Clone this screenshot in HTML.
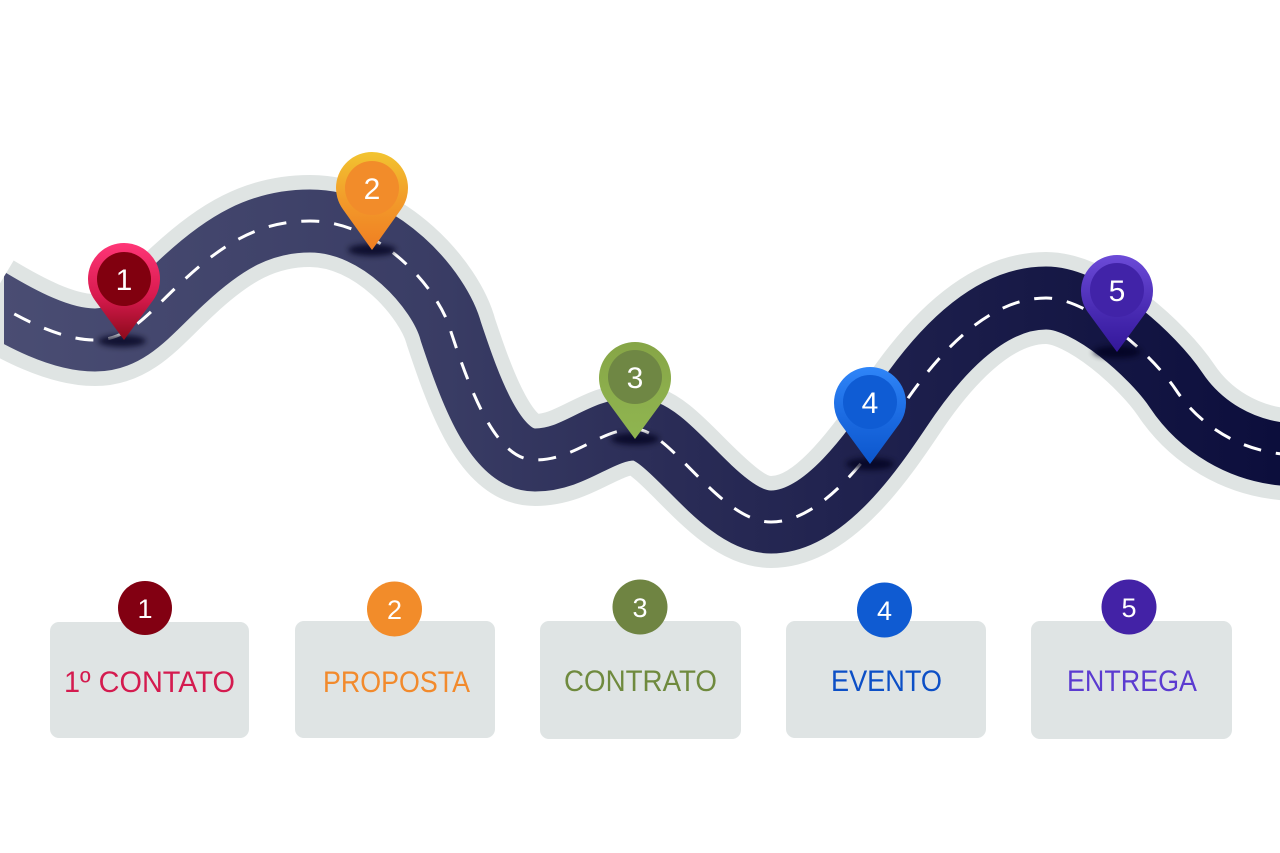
<!DOCTYPE html>
<html>
<head>
<meta charset="utf-8">
<style>
html,body{margin:0;padding:0;background:#ffffff;}
svg{display:block;}
</style>
</head>
<body>
<svg width="1280" height="853" viewBox="0 0 1280 853" xmlns="http://www.w3.org/2000/svg">
<defs>
<linearGradient id="road" gradientUnits="userSpaceOnUse" x1="0" y1="0" x2="1280" y2="0">
<stop offset="0" stop-color="#4a4d73"/>
<stop offset="0.35" stop-color="#393c64"/>
<stop offset="0.5" stop-color="#2c2e58"/>
<stop offset="0.72" stop-color="#1c1e4b"/>
<stop offset="1" stop-color="#0c0e3c"/>
</linearGradient>
<clipPath id="rc"><rect x="4" y="0" width="1276" height="853"/></clipPath>
<filter id="blur" x="-50%" y="-50%" width="200%" height="200%"><feGaussianBlur stdDeviation="3"/></filter>
<linearGradient id="p1" x1="0" y1="0" x2="0" y2="1"><stop offset="0" stop-color="#ff3677"/><stop offset="0.55" stop-color="#d81a4e"/><stop offset="1" stop-color="#8a0a1a"/></linearGradient>
<linearGradient id="p2" x1="0" y1="0" x2="0" y2="1"><stop offset="0" stop-color="#f2c430"/><stop offset="0.5" stop-color="#f29a2a"/><stop offset="1" stop-color="#f07e22"/></linearGradient>
<linearGradient id="p3" x1="0" y1="0" x2="0" y2="1"><stop offset="0" stop-color="#86a546"/><stop offset="0.5" stop-color="#8cae4c"/><stop offset="1" stop-color="#8fb550"/></linearGradient>
<linearGradient id="p4" x1="0" y1="0" x2="0" y2="1"><stop offset="0" stop-color="#2f85f8"/><stop offset="0.55" stop-color="#1a69e0"/><stop offset="1" stop-color="#0c56cc"/></linearGradient>
<linearGradient id="p5" x1="0" y1="0" x2="0" y2="1"><stop offset="0" stop-color="#6c4bd8"/><stop offset="0.55" stop-color="#4a2cb4"/><stop offset="1" stop-color="#33179a"/></linearGradient>
</defs>

<!-- road -->
<path id="rp" d="M -10,300 C 20,318 60,340 95,340 C 130,340 149,312 184,280 C 224,243 260,221 310,221 C 380,221 440,290 451,332 C 470,389 495,460 535,460 C 575,460 600,429 635,429 C 670,429 720,522 771,522 C 825,522 875,447 900,410 C 933,360 985,298 1046,298 C 1090,298 1154,357 1176,390 C 1198,423 1240,455 1300,455" fill="none" stroke="#dfe4e3" stroke-width="92"/>
<g clip-path="url(#rc)">
<path d="M -10,300 C 20,318 60,340 95,340 C 130,340 149,312 184,280 C 224,243 260,221 310,221 C 380,221 440,290 451,332 C 470,389 495,460 535,460 C 575,460 600,429 635,429 C 670,429 720,522 771,522 C 825,522 875,447 900,410 C 933,360 985,298 1046,298 C 1090,298 1154,357 1176,390 C 1198,423 1240,455 1300,455" fill="none" stroke="url(#road)" stroke-width="63"/>
<path d="M -10,300 C 20,318 60,340 95,340 C 130,340 149,312 184,280 C 224,243 260,221 310,221 C 380,221 440,290 451,332 C 470,389 495,460 535,460 C 575,460 600,429 635,429 C 670,429 720,522 771,522 C 825,522 875,447 900,410 C 933,360 985,298 1046,298 C 1090,298 1154,357 1176,390 C 1198,423 1240,455 1300,455" fill="none" stroke="#ffffff" stroke-width="3" stroke-dasharray="18 15" stroke-dashoffset="-28"/>
</g>

<!-- pin shadows -->
<g filter="url(#blur)" fill="#05061a" opacity="0.75">
<ellipse cx="122" cy="341" rx="24" ry="6"/>
<ellipse cx="372" cy="250" rx="24" ry="6"/>
<ellipse cx="635" cy="439" rx="24" ry="6"/>
<ellipse cx="870" cy="464" rx="24" ry="6"/>
<ellipse cx="1117" cy="352" rx="24" ry="6"/>
</g>

<!-- pins -->
<g font-family="Liberation Sans, DejaVu Sans, sans-serif" font-size="30" fill="#ffffff" text-anchor="middle">
<path d="M124,340 L94.9,300.2 A36,36 0 1 1 153.1,300.2 Z" fill="url(#p1)"/>
<circle cx="124" cy="279" r="27" fill="#81000f"/>
<text x="124" y="290">1</text>

<path d="M372,250 L342.9,209.2 A36,36 0 1 1 401.1,209.2 Z" fill="url(#p2)"/>
<circle cx="372" cy="188" r="27" fill="#f28c2a"/>
<text x="372" y="199">2</text>

<path d="M635,439 L605.9,399.2 A36,36 0 1 1 664.1,399.2 Z" fill="url(#p3)"/>
<circle cx="635" cy="377" r="27" fill="#6f8744"/>
<text x="635" y="388">3</text>

<path d="M870,464 L840.9,424.2 A36,36 0 1 1 899.1,424.2 Z" fill="url(#p4)"/>
<circle cx="870" cy="402" r="27" fill="#0f5cd4"/>
<text x="870" y="413">4</text>

<path d="M1117,352 L1087.9,312.2 A36,36 0 1 1 1146.1,312.2 Z" fill="url(#p5)"/>
<circle cx="1117" cy="290" r="27" fill="#4123a8"/>
<text x="1117" y="301">5</text>
</g>

<!-- boxes -->
<g fill="#dfe4e4">
<rect x="50" y="622" width="199" height="116" rx="9"/>
<rect x="295" y="621" width="200" height="117" rx="9"/>
<rect x="540" y="621" width="201" height="118" rx="9"/>
<rect x="786" y="621" width="200" height="117" rx="9"/>
<rect x="1031" y="621" width="201" height="118" rx="9"/>
</g>

<!-- box circles -->
<circle cx="145" cy="608" r="27" fill="#820012"/>
<circle cx="394.5" cy="609" r="27.5" fill="#f28c2a"/>
<circle cx="640" cy="607" r="27.5" fill="#6f8442"/>
<circle cx="884.5" cy="610" r="27.5" fill="#0f5bd2"/>
<circle cx="1129" cy="607" r="27.5" fill="#4322a6"/>
<g font-family="Liberation Sans, DejaVu Sans, sans-serif" font-size="27" fill="#ffffff" text-anchor="middle">
<text x="145" y="618">1</text>
<text x="394.5" y="619">2</text>
<text x="640" y="617">3</text>
<text x="884.5" y="620">4</text>
<text x="1129" y="617">5</text>
</g>

<!-- labels -->
<g font-family="Liberation Sans, DejaVu Sans, sans-serif" font-size="30">
<text x="64" y="692" fill="#d41b4f" textLength="171" lengthAdjust="spacingAndGlyphs">1º CONTATO</text>
<text x="323" y="692" fill="#f28a2c" textLength="147" lengthAdjust="spacingAndGlyphs">PROPOSTA</text>
<text x="564" y="691" fill="#6f8a3e" textLength="153" lengthAdjust="spacingAndGlyphs">CONTRATO</text>
<text x="831" y="691" fill="#0c4fc6" textLength="111" lengthAdjust="spacingAndGlyphs">EVENTO</text>
<text x="1067" y="691" fill="#5b3bd0" textLength="130" lengthAdjust="spacingAndGlyphs">ENTREGA</text>
</g>
</svg>
</body>
</html>
